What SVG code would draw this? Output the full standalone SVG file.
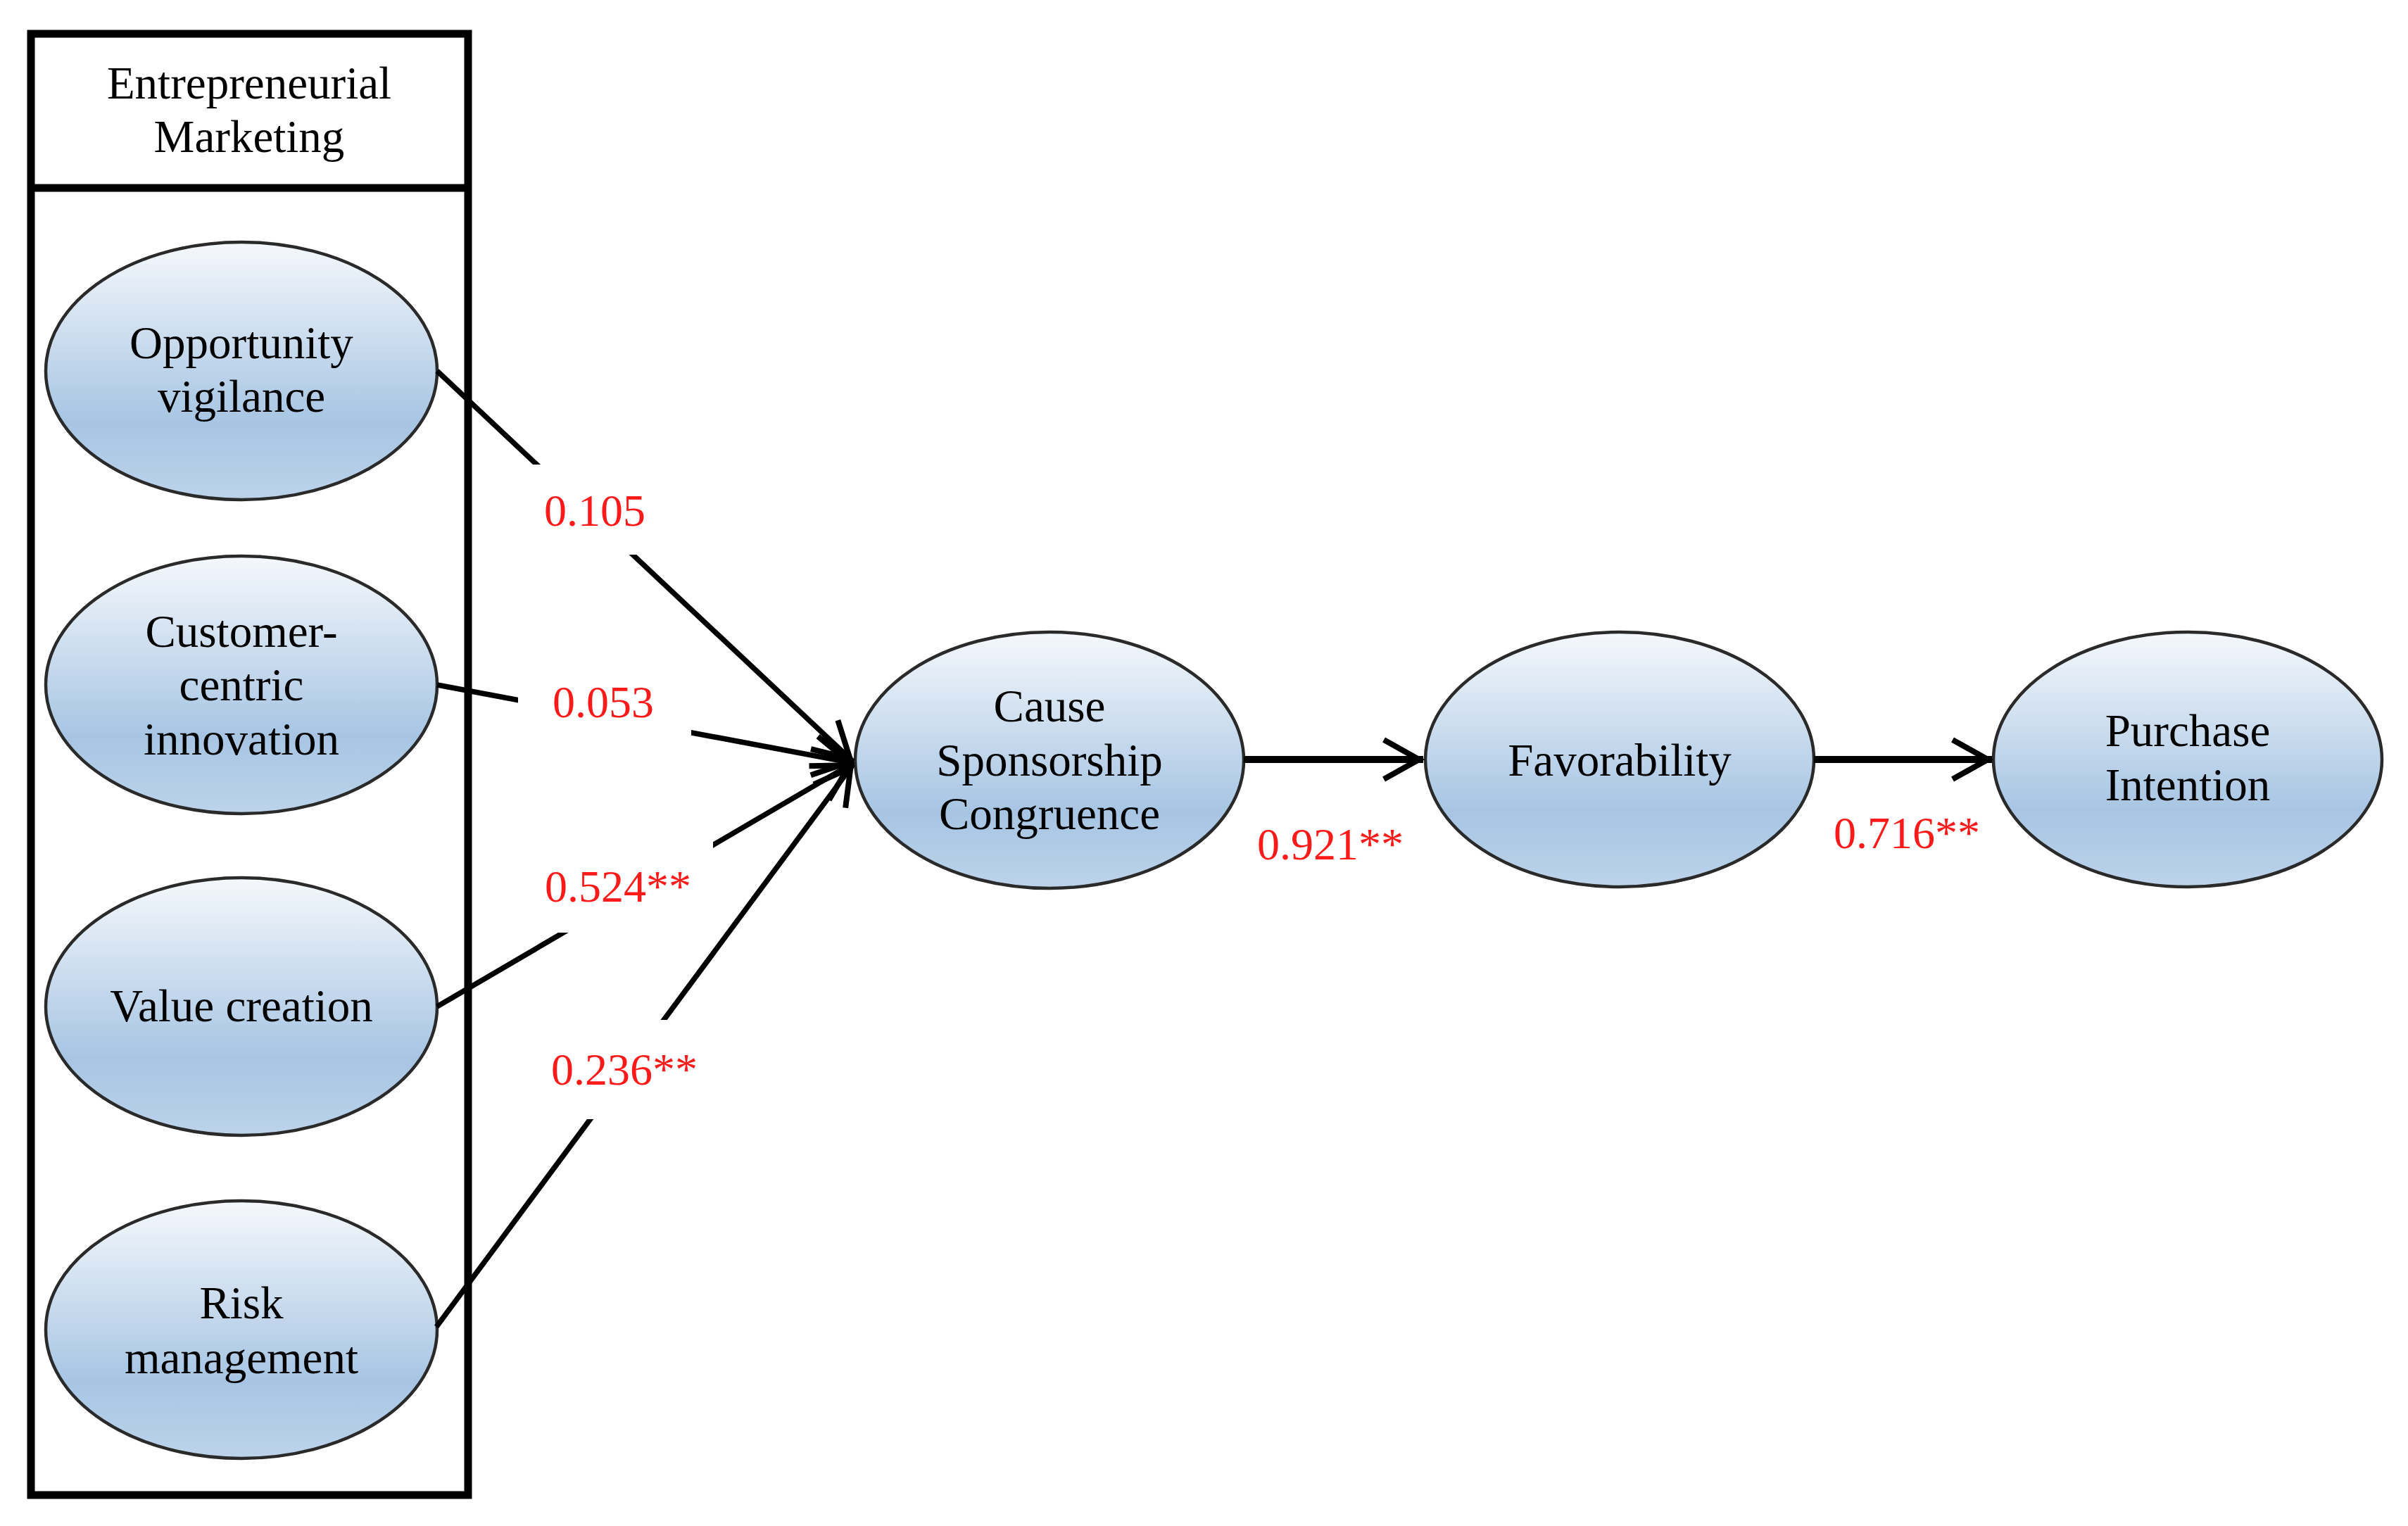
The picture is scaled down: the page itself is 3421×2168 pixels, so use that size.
<svg xmlns="http://www.w3.org/2000/svg" width="3421" height="2168" viewBox="0 0 3421 2168">
<style>
.node ellipse{fill:url(#g);stroke:#2a2a2a;stroke-width:4.5}
text{font-family:"Liberation Serif","Times New Roman",serif;font-size:65px;fill:#000}
.t{text-anchor:middle}
.lbl{fill:#ff1a1a;font-size:64px}
.conn line{stroke:#000;stroke-width:7.5;fill:none}
.conn line.h{stroke-width:10}
.bg{fill:#fff}
</style>
<defs>
<linearGradient id="g" x1="0" y1="0" x2="0" y2="1">
<stop offset="0" stop-color="#f5f8fc"/>
<stop offset="0.7" stop-color="#a7c5e3"/>
<stop offset="1" stop-color="#bcd3ea"/>
</linearGradient>
<marker id="arr" markerUnits="userSpaceOnUse" viewBox="-70 -40 80 80" refX="0" refY="0" markerWidth="80" markerHeight="80" orient="auto" overflow="visible">
<path d="M-56 -28 L-6 0 L-56 28" fill="none" stroke="#000" stroke-width="8"/>
</marker>
</defs>
<rect width="3421" height="2168" fill="#fff"/>
<g id="em-box">
<rect x="44" y="48" width="621" height="2076" fill="none" stroke="#000" stroke-width="11"/>
<line x1="44" y1="267" x2="665" y2="267" stroke="#000" stroke-width="11"/>
<text class="t" x="354" y="140">Entrepreneurial</text>
<text class="t" x="354" y="216">Marketing</text>
</g>
<g id="opportunity-vigilance" class="node">
<ellipse cx="343" cy="527" rx="278" ry="183"/>
<text class="t" x="343" y="509">Opportunity</text>
<text class="t" x="343" y="585">vigilance</text>
</g>
<g id="customer-centric-innovation" class="node">
<ellipse cx="343" cy="973" rx="278" ry="183"/>
<text class="t" x="343" y="919">Customer-</text>
<text class="t" x="343" y="995">centric</text>
<text class="t" x="343" y="1072">innovation</text>
</g>
<g id="value-creation" class="node">
<ellipse cx="343" cy="1430" rx="278" ry="183"/>
<text class="t" x="343" y="1451">Value creation</text>
</g>
<g id="risk-management" class="node">
<ellipse cx="343" cy="1889" rx="278" ry="183"/>
<text class="t" x="343" y="1873">Risk</text>
<text class="t" x="343" y="1951">management</text>
</g>
<g id="cause-sponsorship-congruence" class="node">
<ellipse cx="1491" cy="1080" rx="276" ry="182"/>
<text class="t" x="1491" y="1025">Cause</text>
<text class="t" x="1491" y="1102">Sponsorship</text>
<text class="t" x="1491" y="1178">Congruence</text>
</g>
<g id="favorability" class="node">
<ellipse cx="2301" cy="1079" rx="276" ry="181"/>
<text class="t" x="2301" y="1102">Favorability</text>
</g>
<g id="purchase-intention" class="node">
<ellipse cx="3108" cy="1079" rx="276" ry="181"/>
<text class="t" x="3108" y="1060">Purchase</text>
<text class="t" x="3108" y="1137">Intention</text>
</g>
<g id="connectors" class="conn">
<line x1="621" y1="527" x2="1212" y2="1082" marker-end="url(#arr)"/>
<line x1="621" y1="973" x2="1212" y2="1084" marker-end="url(#arr)"/>
<line x1="621" y1="1430" x2="1212" y2="1084" marker-end="url(#arr)"/>
<line x1="620" y1="1885" x2="1212" y2="1086" marker-end="url(#arr)"/>
<line class="h" x1="1767" y1="1079" x2="2022" y2="1079" marker-end="url(#arr)"/>
<line class="h" x1="2577" y1="1079" x2="2830" y2="1079" marker-end="url(#arr)"/>
</g>
<g id="labels">
<rect class="bg" x="735" y="660" width="250" height="128"/>
<text class="lbl" x="773" y="747">0.105</text>
<rect class="bg" x="736" y="925" width="246" height="147"/>
<text class="lbl" x="785" y="1019">0.053</text>
<rect class="bg" x="770" y="1190" width="243" height="135"/>
<text class="lbl" x="774" y="1281">0.524**</text>
<rect class="bg" x="770" y="1449" width="240" height="141"/>
<text class="lbl" x="783" y="1541">0.236**</text>
<text class="lbl" x="1786" y="1221">0.921**</text>
<text class="lbl" x="2605" y="1205">0.716**</text>
</g>
</svg>
